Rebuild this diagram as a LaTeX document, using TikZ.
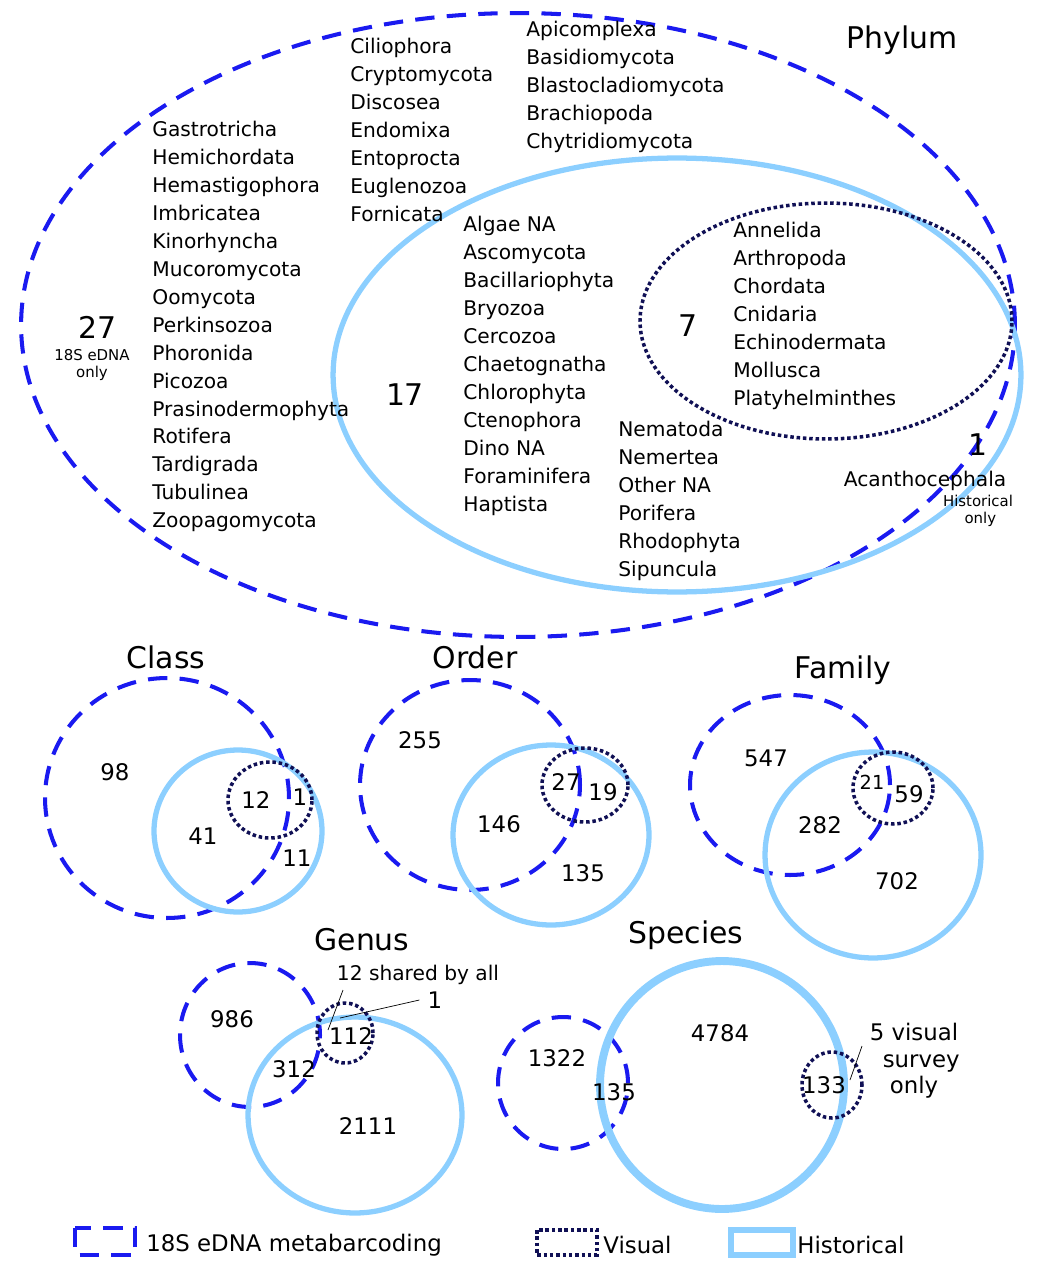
\documentclass[tikz,border=0pt]{standalone}
\usepackage{fontspec}
\setmainfont{DejaVu Sans}
\definecolor{edna}{HTML}{1A1AF0}
\definecolor{vis}{HTML}{101055}
\definecolor{hist}{HTML}{8CCFFF}
\begin{document}
\begin{tikzpicture}[x=0.02cm,y=-0.02cm,
 dsh/.style={draw=edna,line width=2.3pt,dash pattern=on 11pt off 7pt},
 dot/.style={draw=vis,line width=2pt,dash pattern=on 2pt off 1.6pt},
 his/.style={draw=hist,line width=3pt},
 txt/.style={font=\fontsize{11.5}{15.9}\selectfont,inner sep=0pt},
 lst/.style={txt,anchor=north west,align=left},
 big/.style={font=\fontsize{17}{20}\selectfont,inner sep=0pt},
 num/.style={font=\fontsize{13}{15}\selectfont,inner sep=0pt},
 sm/.style={font=\fontsize{8.5}{10}\selectfont,inner sep=0pt,align=center}]
\useasboundingbox (0,0) rectangle (1060,1287);
% Phylum
\draw[dsh] (518,325) ellipse [x radius=9.94cm,y radius=6.24cm];
\draw[his] (677,375) ellipse [x radius=6.88cm,y radius=4.34cm];
\draw[dot] (826,321) ellipse [x radius=3.72cm,y radius=2.36cm];
\node[big] (ph) at (902,40) {Phylum};
\node[lst] (c1) at (152,121) {Gastrotricha\\Hemichordata\\Hemastigophora\\Imbricatea\\Kinorhyncha\\Mucoromycota\\Oomycota\\Perkinsozoa\\Phoronida\\Picozoa\\Prasinodermophyta\\Rotifera\\Tardigrada\\Tubulinea\\Zoopagomycota};
\node[lst] (c2) at (350,38) {Ciliophora\\Cryptomycota\\Discosea\\Endomixa\\Entoprocta\\Euglenozoa\\Fornicata};
\node[lst] (c3) at (526,21) {Apicomplexa\\Basidiomycota\\Blastocladiomycota\\Brachiopoda\\Chytridiomycota};
\node[lst] (c4) at (463,216) {Algae NA\\Ascomycota\\Bacillariophyta\\Bryozoa\\Cercozoa\\Chaetognatha\\Chlorophyta\\Ctenophora\\Dino NA\\Foraminifera\\Haptista};
\node[lst] (c5) at (618,421) {Nematoda\\Nemertea\\Other NA\\Porifera\\Rhodophyta\\Sipuncula};
\node[lst] (c6) at (733,222) {Annelida\\Arthropoda\\Chordata\\Cnidaria\\Echinodermata\\Mollusca\\Platyhelminthes};
\node[big] (n27) at (98,327) {27};
\node[sm] (n27l) at (92,365) {18S eDNA\\only};
\node[big] (n17) at (405,395) {17};
\node[big] (n7) at (688,326) {7};
\node[big] (n1) at (978,445) {1};
\node[txt] (aca) at (925,481) {Acanthocephala};
\node[sm] (hol) at (978,511) {Historical\\\ only};
% Class
\draw[dsh] (167,798) ellipse [x radius=2.44cm,y radius=2.4cm];
\draw[his] (238,831) ellipse [x radius=1.68cm,y radius=1.62cm];
\draw[dot] (270,800) ellipse [x radius=0.84cm,y radius=0.76cm];
\node[big] (tc) at (166,657) {Class};
\node[num] (a1) at (115,772) {98};
\node[num] (a2) at (256,800) {12};
\node[num] (a3) at (300,797) {1};
\node[num] (a4) at (203,836) {41};
\node[num] (a5) at (297,858) {11};
% Order
\draw[dsh] (470,785) ellipse [x radius=2.2cm,y radius=2.1cm];
\draw[his] (551,835) ellipse [x radius=1.96cm,y radius=1.8cm];
\draw[dot] (585,785) ellipse [x radius=0.86cm,y radius=0.74cm];
\node[big] (to) at (475,657) {Order};
\node[num] (b1) at (420,740) {255};
\node[num] (b2) at (566,782) {27};
\node[num] (b3) at (603,792) {19};
\node[num] (b4) at (499,824) {146};
\node[num] (b5) at (583,873) {135};
% Family
\draw[dsh] (790,785) ellipse [x radius=2.0cm,y radius=1.8cm];
\draw[his] (873,855) ellipse [x radius=2.16cm,y radius=2.06cm];
\draw[dot] (893,788) ellipse [x radius=0.8cm,y radius=0.72cm];
\node[big] (tf) at (843,670) {Family};
\node[num] (f1) at (766,758) {547};
\node[num,font=\fontsize{11}{13}\selectfont] (f2) at (872,782) {21};
\node[num] (f3) at (909,794) {59};
\node[num] (f4) at (820,825) {282};
\node[num] (f5) at (897,881) {702};
% Genus
\draw[dsh] (250,1035) ellipse [x radius=1.4cm,y radius=1.44cm];
\draw[his] (355,1115) ellipse [x radius=2.14cm,y radius=1.96cm];
\draw[dot] (345,1033) ellipse [x radius=0.56cm,y radius=0.6cm];
\node[big] (tg) at (362,940) {Genus};
\node[num] (g1) at (232,1019) {986};
\node[num] (g2) at (351,1036) {112};
\node[num] (g3) at (294,1069) {312};
\node[num] (g4) at (368,1126) {2111};
\node[txt] (g5) at (418,975) {12 shared by all};
\node[num] (g6) at (435,1000) {1};
\coordinate (g5e) at (328,1030);
\coordinate (g6e) at (340,1018);
\draw[thin] (343,990) -- (g5e);
\draw[thin] (g6.west) ++(-8,0) -- (g6e);
% Species
\draw[dsh] (563,1083) ellipse [x radius=1.3cm,y radius=1.32cm];
\draw[draw=hist,line width=4.5pt] (722,1085) ellipse [x radius=2.44cm,y radius=2.48cm];
\draw[dot] (832,1085) ellipse [x radius=0.6cm,y radius=0.66cm];
\node[big] (ts) at (686,935) {Species};
\node[num] (s1) at (557,1058) {1322};
\node[num] (s2) at (614,1092) {135};
\node[num] (s3) at (720,1033) {4784};
\node[num] (s4) at (824,1085) {133};
\node[num,align=center] (s5) at (914,1061) {5 visual\\\ \ survey\\only};
\coordinate (s5e) at (850,1080);
\draw[thin] (862,1046) -- (s5e);
% Legend
\draw[dsh] (75,1228) rectangle (135,1255);
\draw[dot] (537,1230) rectangle (597,1255);
\draw[his,line width=3.5pt] (731,1230) rectangle (793,1255);
\node[num,anchor=west] (l1) at (146,1245) {18S eDNA metabarcoding};
\node[num,anchor=west] (l2) at (603,1245) {Visual};
\node[num,anchor=west] (l3) at (797,1245) {Historical};
\end{tikzpicture}
\end{document}
